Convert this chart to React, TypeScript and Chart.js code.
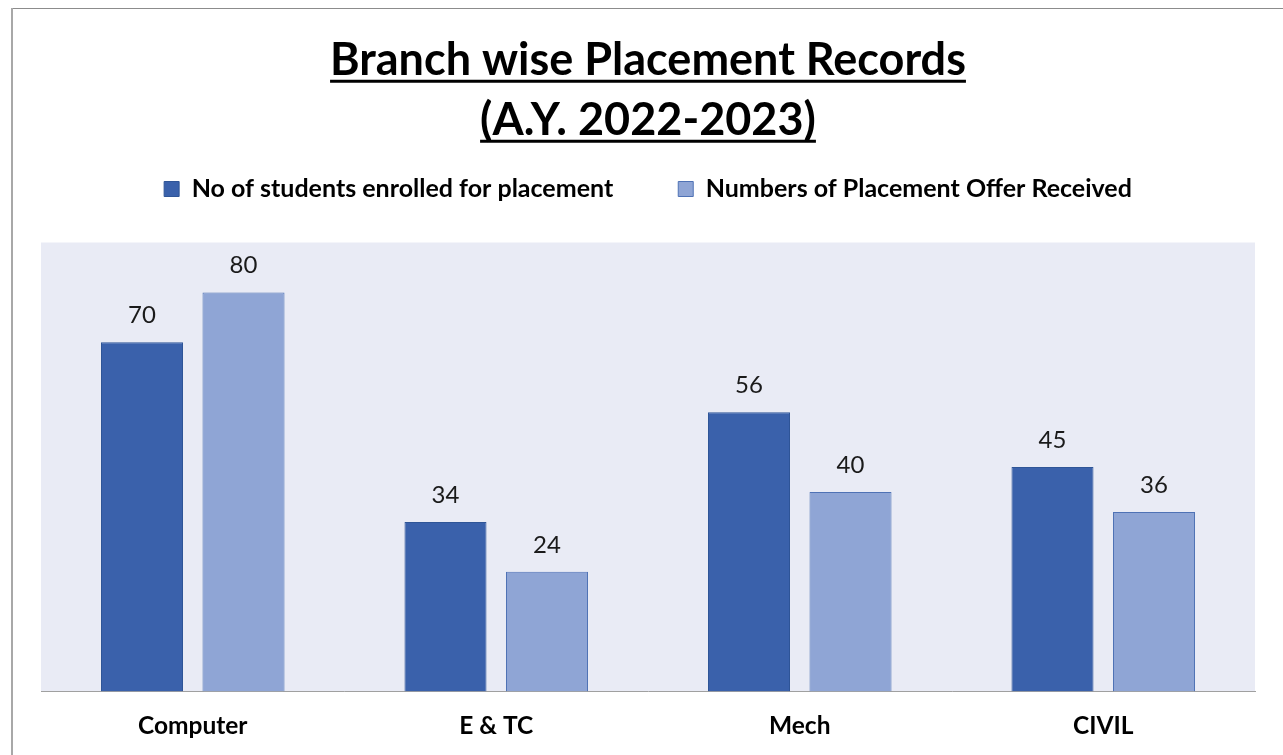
import React, { useEffect, useRef } from "react";
import { Chart, registerables } from "chart.js";

Chart.register(...registerables);

const categories = ["Computer", "E & TC", "Mech", "CIVIL"];
const enrolled = [70, 34, 56, 45];
const offers = [80, 24, 40, 36];
const seriesNames = ["No of students enrolled for placement", "Numbers of Placement Offer Received"];
const titleLines = ["Branch wise Placement Records", "(A.Y. 2022-2023)"];

const FONT = "Lato, 'Open Sans', sans-serif";
const TITLE_SIZE = 45;

const plotBg = {
  id: "plotBg",
  beforeDraw(chart: any) {
    const { ctx, chartArea } = chart;
    ctx.save();
    ctx.fillStyle = "#E9EBF5";
    ctx.fillRect(chartArea.left, chartArea.top, chartArea.right - chartArea.left, chartArea.bottom - chartArea.top);
    ctx.restore();
  },
};

const legendSpace = {
  id: "legendSpace",
  beforeInit(chart: any) {
    const lg = chart.legend;
    if (!lg) return;
    const orig = lg.fit;
    lg.fit = function () {
      orig.call(this);
      this.height += 31;
    };
  },
};

const titleUnderline = {
  id: "titleUnderline",
  afterDraw(chart: any) {
    const tb = chart.titleBlock;
    if (!tb) return;
    const { ctx } = chart;
    const opts = chart.options.plugins.title;
    const size = opts.font.size;
    const lh = size * opts.font.lineHeight;
    ctx.save();
    ctx.font = `bold ${size}px ${FONT}`;
    ctx.strokeStyle = "#000";
    ctx.lineWidth = 3;
    const cx = (tb.left + tb.right) / 2;
    titleLines.forEach((line, i) => {
      const w = ctx.measureText(line).width;
      const y = tb.top + opts.padding.top + lh / 2 + i * lh + size * 0.47;
      ctx.beginPath();
      ctx.moveTo(cx - w / 2, y);
      ctx.lineTo(cx + w / 2, y);
      ctx.stroke();
    });
    ctx.restore();
  },
};

const valueLabels = {
  id: "valueLabels",
  afterDatasetsDraw(chart: any) {
    const { ctx } = chart;
    ctx.save();
    ctx.font = `24px ${FONT}`;
    ctx.fillStyle = "#1a1a1a";
    ctx.textAlign = "center";
    ctx.textBaseline = "alphabetic";
    chart.data.datasets.forEach((ds: any, di: number) => {
      const meta = chart.getDatasetMeta(di);
      meta.data.forEach((bar: any, i: number) => {
        ctx.fillText(String(ds.data[i]), bar.x, bar.y - 19);
      });
    });
    ctx.restore();
  },
};

export default function App() {
  const ref = useRef<HTMLCanvasElement>(null);
  useEffect(() => {
    if (!ref.current) return;
    const chart = new Chart(ref.current, {
      type: "bar",
      data: {
        labels: categories,
        datasets: [
          {
            label: seriesNames[0],
            data: enrolled,
            backgroundColor: "#3A61AB",
            borderColor: "#2F5597",
            borderWidth: 1,
            categoryPercentage: 0.669,
            barPercentage: 0.808,
          },
          {
            label: seriesNames[1],
            data: offers,
            backgroundColor: "#8FA5D5",
            borderColor: "#4F72B5",
            borderWidth: 1,
            categoryPercentage: 0.669,
            barPercentage: 0.808,
          },
        ],
      },
      options: {
        animation: false,
        responsive: false,
        layout: { padding: { left: 41, right: 28, top: 0, bottom: -6 } },
        plugins: {
          title: {
            display: true,
            text: titleLines,
            color: "#000",
            font: { family: FONT, size: TITLE_SIZE, weight: "bold", lineHeight: 60 / TITLE_SIZE },
            padding: { top: 30, bottom: -38.5 },
          },
          legend: {
            display: true,
            labels: {
              color: "#000",
              font: { family: FONT, size: 25, weight: "bold" },
              boxWidth: 15,
              boxHeight: 15,
              padding: 65,
            },
          },
          tooltip: { enabled: false },
        },
        scales: {
          x: {
            grid: { display: false, drawTicks: false },
            border: { display: true, color: "#A0A0A0", width: 1 },
            ticks: { color: "#000", font: { family: FONT, size: 24.5, weight: "bold" }, padding: 20 },
          },
          y: {
            display: false,
            min: 0,
            max: 90,
          },
        },
      },
      plugins: [plotBg, legendSpace, titleUnderline, valueLabels],
    });
    return () => chart.destroy();
  }, []);
  return (
    <div style={{ position: "absolute", left: 0, top: 0, width: 1283, height: 755, background: "#fff" }}>
      <canvas ref={ref} width={1283} height={755} style={{ position: "absolute", left: 0, top: 0 }} />
      <div style={{ position: "absolute", left: 12, top: 8, width: 1271, height: 1, background: "#8c8c8c" }} />
      <div style={{ position: "absolute", left: 11, top: 8, width: 2, height: 747, background: "#a8a8a8" }} />
    </div>
  );
}
